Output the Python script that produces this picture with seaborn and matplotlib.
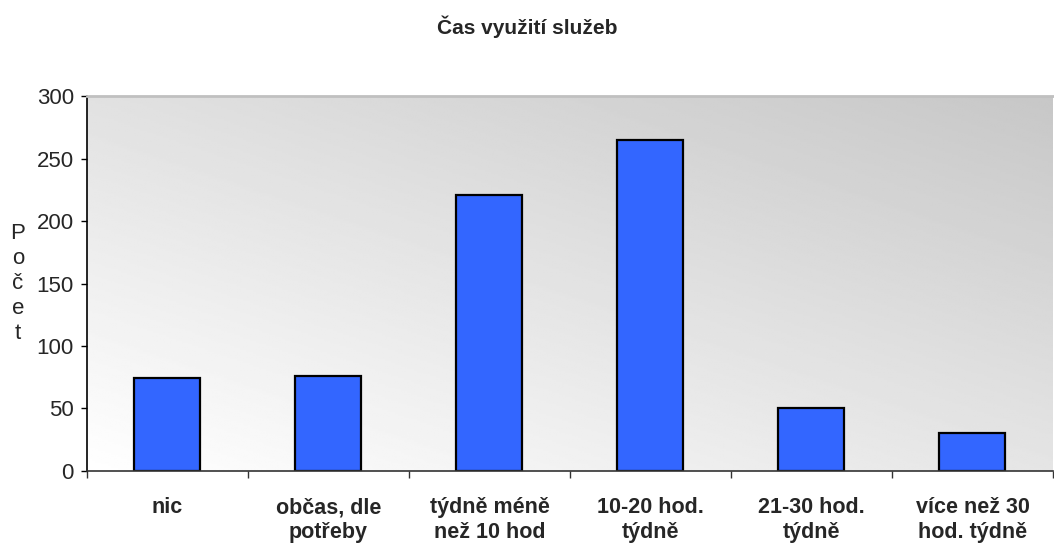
import numpy as np
import pandas as pd
import matplotlib
matplotlib.use("Agg")
import matplotlib.pyplot as plt
import seaborn as sns

categories = ["nic", "občas, dle\npotřeby", "týdně méně\nnež 10 hod",
              "10-20 hod.\ntýdně", "21-30 hod.\ntýdně", "více než 30\nhod. týdně"]
counts = [74, 76, 221, 265, 50, 30]
yticks = [0, 50, 100, 150, 200, 250, 300]

sns.set_style("white")
plt.rcParams["font.family"] = ["Liberation Sans", "DejaVu Sans"]

df = pd.DataFrame({"kategorie": categories, "pocet": counts})

fig = plt.figure(figsize=(10.54, 5.43), dpi=100)
ax = fig.add_axes([0.0825, 0.1326, 0.9165, 0.6906])

# šedý přechod pozadí (vlevo dole bílá, vpravo nahoře šedá)
gx, gy = np.meshgrid(np.linspace(0, 1, 300), np.linspace(0, 1, 200))
grad = 255 - 26 * gx - 30 * gy
ax.imshow(grad, cmap="gray", vmin=0, vmax=255, origin="lower",
          extent=[0, 1, 0, 1], transform=ax.transAxes, aspect="auto", zorder=0)

sns.barplot(data=df, x="kategorie", y="pocet", color="#3366FF",
            edgecolor="black", linewidth=1.6, width=0.41, saturation=1,
            ax=ax, zorder=2)

ax.set_ylim(0, 300)
ax.set_xlim(-0.5, len(categories) - 0.5)
ax.set_yticks(yticks)
ax.set_xlabel("")
ax.set_ylabel("")
ax.tick_params(axis="y", which="major", direction="out", length=4.5, width=1,
               color="black", labelsize=16, pad=5, left=True)
ax.set_xticks(np.arange(len(categories) + 1) - 0.5, minor=True)
ax.tick_params(axis="x", which="major", length=0, labelsize=15.5, pad=19)
ax.tick_params(axis="x", which="minor", direction="out", length=5, width=1,
               color="#333333", bottom=True)
for lbl in ax.get_xticklabels():
    lbl.set_fontweight("bold")
    lbl.set_linespacing(1.25)

ax.spines["left"].set_color("black")
ax.spines["left"].set_linewidth(1.2)
ax.spines["bottom"].set_color("#333333")
ax.spines["bottom"].set_linewidth(1.2)
ax.spines["top"].set_color("#c0c0c0")
ax.spines["top"].set_linewidth(2)
ax.spines["right"].set_visible(False)

fig.text(0.5, 0.95, "Čas využití služeb", ha="center", va="center",
         fontsize=15, fontweight="bold")
fig.text(0.017, 0.478, "P\no\nč\ne\nt", ha="center", va="center",
         fontsize=16, linespacing=1.25)

fig.savefig("out.png", dpi=100)
